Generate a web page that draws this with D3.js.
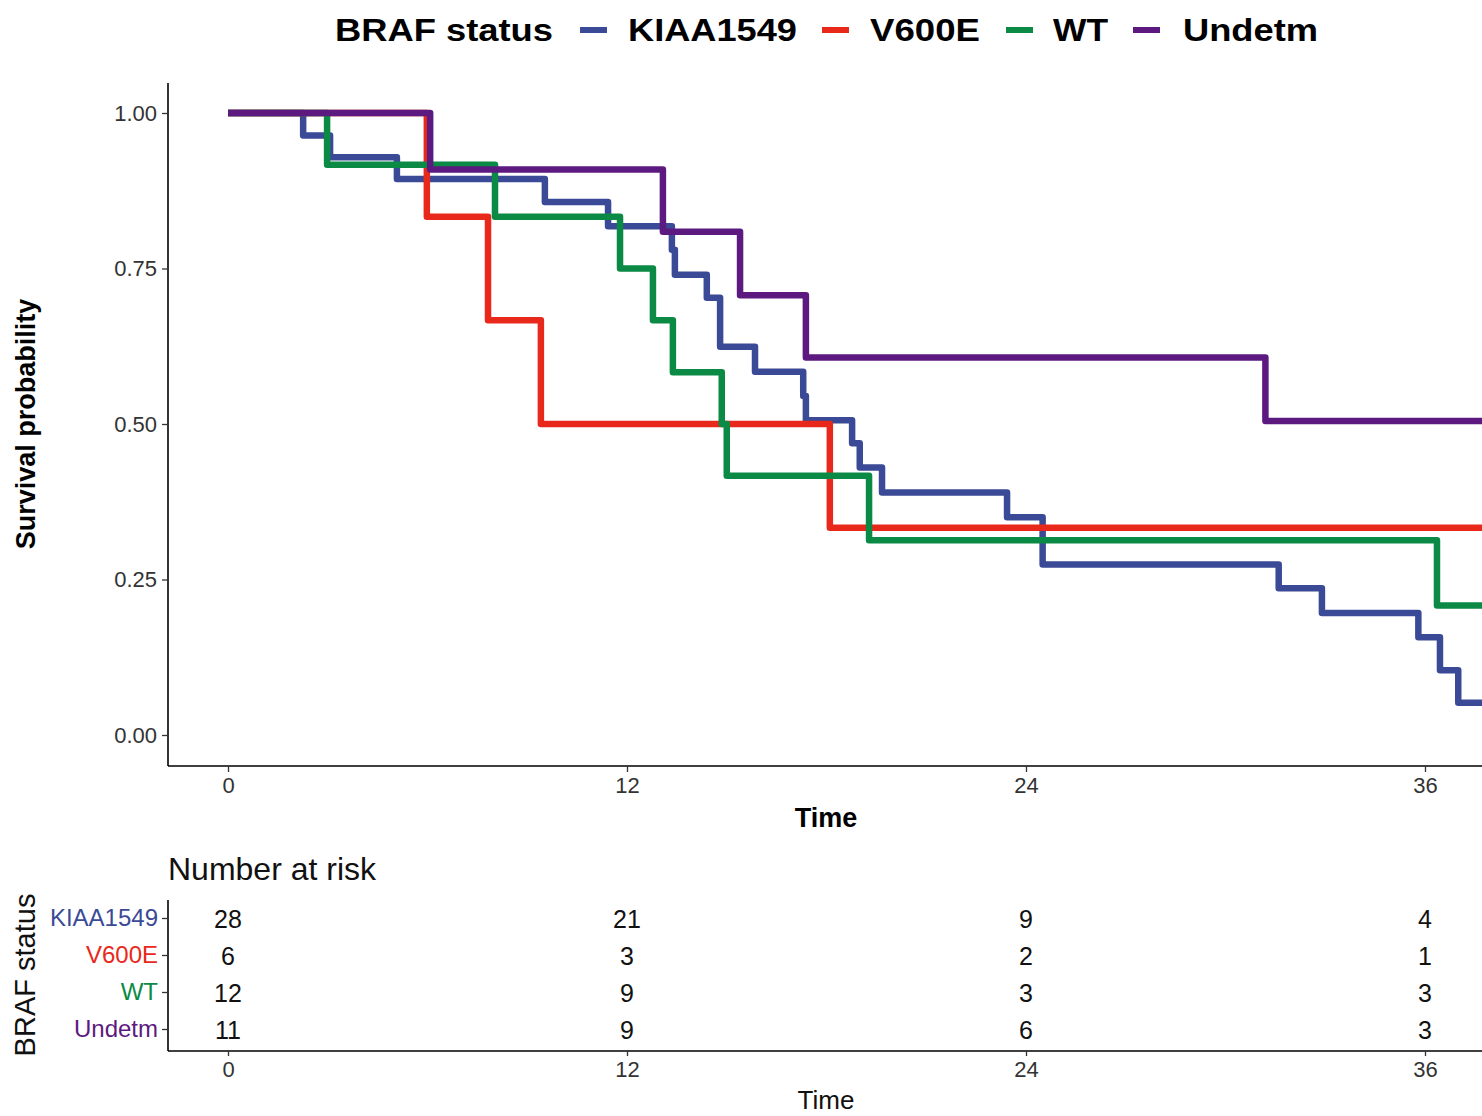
<!DOCTYPE html>
<html><head><meta charset="utf-8">
<script src="https://cdn.jsdelivr.net/npm/d3@7"></script>
<style>body{margin:0;background:#fff}svg{display:block;font-family:"Liberation Sans",Arial,sans-serif}</style>
</head><body><svg id="c" width="1482" height="1116"></svg>
<script>
const groups = ["KIAA1549","V600E","WT","Undetm"];
const colors = ["#3B4A96","#E8281B","#0A8A45","#5C1A80"];
// Step curves: [time, survival after event]
const kiaaSteps = [[0,1],[2.26,0.964],[3.07,0.929],[5.08,0.894],[9.53,0.857],[11.43,0.818],[13.35,0.780],[13.44,0.740],[14.4,0.703],[14.8,0.624],[15.85,0.584],[17.3,0.545],[17.38,0.506],[18.77,0.469],[19.0,0.430],[19.67,0.390],[23.43,0.350],[24.5,0.274],[31.6,0.236],[32.9,0.196],[35.8,0.157],[36.45,0.104],[37.0,0.052]];
const v600eSteps = [[0,1],[5.98,0.833],[7.82,0.667],[9.41,0.5],[18.1,0.333]];
const wtSteps = [[0,1],[2.98,0.917],[8.03,0.833],[11.79,0.75],[12.78,0.667],[13.38,0.583],[14.85,0.5],[15.0,0.417],[19.28,0.313],[36.36,0.208]];
const undetmSteps = [[0,1],[6.08,0.909],[13.08,0.809],[15.4,0.707],[17.38,0.607],[31.2,0.505]];
const curves = [kiaaSteps, v600eSteps, wtSteps, undetmSteps];
const endTime = 40;
const xTicks = [0,12,24,36];
const yTicks = [0,0.25,0.5,0.75,1];
const riskKIAA = [28,21,9,4];
const riskV600E = [6,3,2,1];
const riskWT = [12,9,3,3];
const riskUndetm = [11,9,6,3];
const riskTable = [riskKIAA, riskV600E, riskWT, riskUndetm];

const svg = d3.select("#c");
const x = d3.scaleLinear().domain([0,36]).range([228,1425]);
const y = d3.scaleLinear().domain([0,1]).range([735,113]);

// main axes
const gy = svg.append("g").attr("transform","translate(168,0)")
  .call(d3.axisLeft(y).tickValues(yTicks).tickFormat(d3.format(".2f")).tickSize(6).tickPadding(5));
gy.select(".domain").attr("d","M0,83V766").attr("stroke","#000").attr("stroke-width",1.6);
gy.selectAll(".tick line").attr("stroke","#333").attr("stroke-width",1.3);
gy.selectAll(".tick text").attr("font-size",22).attr("fill","#333");

const gx = svg.append("g").attr("transform","translate(0,766)")
  .call(d3.axisBottom(x).tickValues(xTicks).tickSize(6).tickPadding(5));
gx.select(".domain").attr("d","M168,0H1490").attr("stroke","#000").attr("stroke-width",1.6);
gx.selectAll(".tick line").attr("stroke","#333").attr("stroke-width",1.3);
gx.selectAll(".tick text").attr("font-size",22).attr("fill","#333");

svg.append("text").attr("x",826).attr("y",827).attr("text-anchor","middle")
  .attr("font-size",27).attr("font-weight","bold").text("Time");
svg.append("text").attr("transform","translate(35,424) rotate(-90)").attr("text-anchor","middle")
  .attr("font-size",27).attr("font-weight","bold").text("Survival probability");

// curves
const line = d3.line().x(d=>x(d[0])).y(d=>y(d[1])).curve(d3.curveStepAfter);
curves.forEach((c,i)=>{
  const pts = c.concat([[endTime, c[c.length-1][1]]]);
  svg.append("path").attr("d",line(pts)).attr("fill","none")
    .attr("stroke",colors[i]).attr("stroke-width",6.5).attr("stroke-linejoin","round");
});

// legend
svg.append("text").attr("x",335).attr("y",41).attr("font-size",32).attr("font-weight","bold")
  .attr("textLength",218).attr("lengthAdjust","spacingAndGlyphs").text("BRAF status");
const legItems = [{k:580,t:628,w:169},{k:822,t:870,w:110},{k:1006,t:1053,w:55},{k:1133,t:1183,w:135}];
legItems.forEach((l,i)=>{
  svg.append("line").attr("x1",l.k).attr("x2",l.k+27).attr("y1",30).attr("y2",30)
    .attr("stroke",colors[i]).attr("stroke-width",6);
  svg.append("text").attr("x",l.t).attr("y",41).attr("font-size",32).attr("font-weight","bold")
    .attr("textLength",l.w).attr("lengthAdjust","spacingAndGlyphs").text(groups[i]);
});

// risk table
svg.append("text").attr("x",168).attr("y",880).attr("font-size",32).attr("fill","#111").text("Number at risk");
const yr = d3.scalePoint().domain(groups).range([918,1029]);
const gry = svg.append("g").attr("transform","translate(168,0)")
  .call(d3.axisLeft(yr).tickSize(6).tickPadding(4));
gry.select(".domain").attr("d","M0,900V1051").attr("stroke","#000").attr("stroke-width",1.6);
gry.selectAll(".tick line").attr("stroke","#333").attr("stroke-width",1.3);
gry.selectAll(".tick text").attr("font-size",24).attr("fill",(d,i)=>colors[i]);
const grx = svg.append("g").attr("transform","translate(0,1051)")
  .call(d3.axisBottom(x).tickValues(xTicks).tickSize(5).tickPadding(5));
grx.select(".domain").attr("d","M168,0H1490").attr("stroke","#000").attr("stroke-width",1.6);
grx.selectAll(".tick line").attr("stroke","#333").attr("stroke-width",1.3);
grx.selectAll(".tick text").attr("font-size",22).attr("fill","#333");

riskTable.forEach((row,i)=>{
  row.forEach((v,j)=>{
    svg.append("text").attr("x",x(xTicks[j])).attr("y",yr(groups[i])+10)
      .attr("text-anchor","middle").attr("font-size",25).attr("fill","#111").text(v);
  });
});
svg.append("text").attr("x",826).attr("y",1109).attr("text-anchor","middle")
  .attr("font-size",26).attr("fill","#111").text("Time");
svg.append("text").attr("transform","translate(35,975) rotate(-90)").attr("text-anchor","middle")
  .attr("font-size",29).attr("fill","#111").text("BRAF status");
</script></body></html>
